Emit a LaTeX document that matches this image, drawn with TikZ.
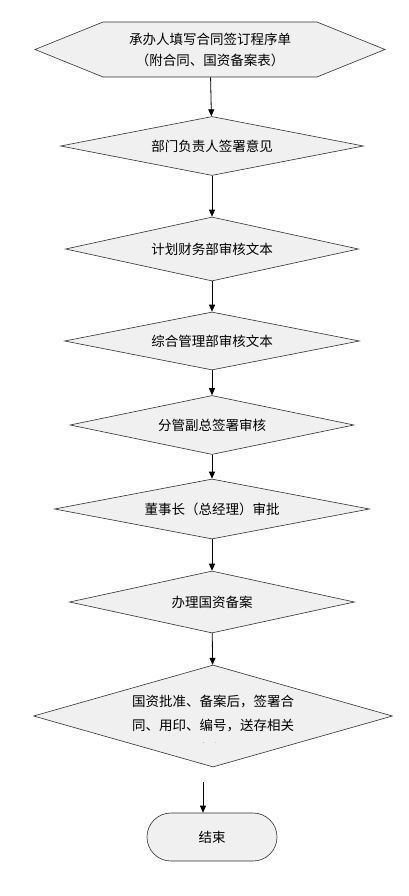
\documentclass[tikz,border=0pt]{standalone}
\usepackage{fontspec}
\usepackage{xcolor}
\usepackage{tikz}
\usetikzlibrary{arrows.meta,shapes.geometric,shapes.symbols}
\newfontfamily\cjk{Noto Sans CJK SC}
\newcommand\flowfont{\cjk\fontsize{13.5}{21}\selectfont}
\definecolor{boxfill}{HTML}{F0F0F0}
\definecolor{edge}{HTML}{303030}
\tikzset{
  startbox/.style={signal,signal to=west and east,signal pointer angle=44,
    draw=edge,fill=boxfill,line width=0.6pt,inner sep=0pt,align=center,
    minimum width=350pt,minimum height=55pt,font=\flowfont},
  checkbox/.style={diamond,draw=edge,fill=boxfill,line width=0.6pt,
    inner sep=0pt,aspect=5,align=center,font=\flowfont},
  endbox/.style={draw=edge,fill=boxfill,line width=0.6pt,rounded corners=23.9pt,
    minimum width=130pt,minimum height=48pt,font=\flowfont},
  arrow/.style={-{Triangle[length=7pt,width=6pt]},line width=0.8pt,draw=black}
}

\begin{document}
\begin{tikzpicture}[x=1pt,y=-1pt]
  \useasboundingbox (0,0) rectangle (408,896);
  \node[startbox] (s1) at (210,49.5) {承办人填写合同签订程序单\\（附合同、国资备案表）};
  \foreach \y/\w/\h/\name [count=\i from 2] in {146/303/59/部门负责人签署意见,
      249/293/64/计划财务部审核文本,341/295/58/综合管理部审核文本,
      425/284/59/分管副总签署审核,509/315/60/董事长（总经理）审批,
      602/285/62/办理国资备案}{
    \node[checkbox,minimum width=\w pt,minimum height=\h pt] (s\i) at (212,\y) {\name};
  }
  \node[checkbox,aspect=3.5,minimum width=359pt,minimum height=102pt] (s8) at (213,716) {};
  % third line is cut off in the box
  \begin{scope}
    \clip (120,680) rectangle (310,742);
    \node[font=\cjk\fontsize{13.5}{24}\selectfont,align=center,inner sep=0pt] (s8t) at (s8.center) [yshift=-9pt]
      {国资批准、备案后，签署合\\同、用印、编号，送存相关\\部门};
  \end{scope}
  \node[endbox] (e) at (212,837) {结束};
  \foreach \i [evaluate=\i as \j using int(\i+1)] in {1,...,7}{
    \draw[arrow] (s\i) -- (s\j);
  }
  \coordinate (c8) at (203,782);
  \draw[arrow] (c8) -- (c8 |- e.north);
\end{tikzpicture}
\end{document}
